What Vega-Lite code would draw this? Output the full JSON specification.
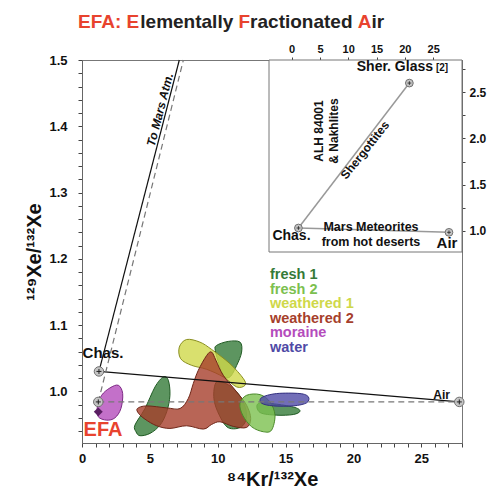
{
 "$schema": "https://vega.github.io/schema/vega-lite/v6.json",
 "width": 380, "height": 383,
 "autosize": {"type": "none"},
 "padding": {"left": 82, "top": 60, "right": 25, "bottom": 61},
 "background": "white",
 "config": {"font": "Liberation Sans", "view": {"stroke": "#777", "strokeWidth": 1}, "text": {"font": "Liberation Sans", "fontWeight": "bold"}, "axis": {"labelOverlap": false, "labelFlush": false, "ticks": true}},
 "resolve": {"scale": {"x": "independent", "y": "independent"}},
 "layer": [
  {"encoding": {
     "x": {"field": "x", "type": "quantitative", "scale": {"domain": [0, 28], "nice": false, "zero": false},
      "axis": {"orient": "bottom", "values": [0,1,2,3,4,5,6,7,8,9,10,11,12,13,14,15,16,17,18,19,20,21,22,23,24,25,26,27,28],
       "labelExpr": "datum.value % 5 === 0 ? datum.label : ''",
       "ticks": true, "tickSize": 4, "tickWidth": 1,
       "labelPadding": 5, "labelFontSize": 13, "labelFontWeight": "bold", "labelColor": "#111", "labelFlush": false, "labelOverlap": false,
       "domainColor": "#666", "tickColor": "#444", "grid": false,
       "title": "⁸⁴Kr/¹³²Xe", "titleFontSize": 20, "titleFontWeight": "bold", "titleColor": "#111", "titlePadding": 4}},
     "y": {"field": "y", "type": "quantitative", "scale": {"domain": [0.922, 1.5], "nice": false, "zero": false},
      "axis": {"orient": "left", "values": [0.94,0.96,0.98,1.0,1.02,1.04,1.06,1.08,1.1,1.12,1.14,1.16,1.18,1.2,1.22,1.24,1.26,1.28,1.3,1.32,1.34,1.36,1.38,1.4,1.42,1.44,1.46,1.48,1.5],
       "labelExpr": "abs(datum.value*10 - round(datum.value*10)) < 0.001 ? format(datum.value, '.1f') : ''",
       "ticks": true, "tickSize": 4, "tickWidth": 1,
       "labelPadding": 11, "labelFontSize": 13, "labelFontWeight": "bold", "labelColor": "#111", "labelFlush": false, "labelOverlap": false,
       "domainColor": "#666", "tickColor": "#444", "grid": false,
       "title": "¹²⁹Xe/¹³²Xe", "titleFontSize": 20, "titleFontWeight": "bold", "titleColor": "#111", "titlePadding": 4}}
   },
   "layer": [
   {"data": {"values": [
     {"series":"fresh 1","blob":"b1","i":1,"x":3.98,"y":0.939},
     {"series":"fresh 1","blob":"b1","i":2,"x":3.90,"y":0.949},
     {"series":"fresh 1","blob":"b1","i":3,"x":4.64,"y":0.974},
     {"series":"fresh 1","blob":"b1","i":4,"x":5.38,"y":1.0066},
     {"series":"fresh 1","blob":"b1","i":5,"x":5.99,"y":1.0217},
     {"series":"fresh 1","blob":"b1","i":6,"x":6.36,"y":1.0167},
     {"series":"fresh 1","blob":"b1","i":7,"x":6.48,"y":0.994},
     {"series":"fresh 1","blob":"b1","i":8,"x":6.24,"y":0.969},
     {"series":"fresh 1","blob":"b1","i":9,"x":5.75,"y":0.949},
     {"series":"fresh 1","blob":"b1","i":10,"x":5.01,"y":0.9365},
     {"series":"fresh 1","blob":"b1","i":11,"x":4.27,"y":0.933},
     {"series":"fresh 1","blob":"b2","i":1,"x":9.82,"y":1.0617},
     {"series":"fresh 1","blob":"b2","i":2,"x":9.92,"y":1.0693},
     {"series":"fresh 1","blob":"b2","i":3,"x":10.78,"y":1.0753},
     {"series":"fresh 1","blob":"b2","i":4,"x":11.64,"y":1.0743},
     {"series":"fresh 1","blob":"b2","i":5,"x":11.76,"y":1.0592},
     {"series":"fresh 1","blob":"b2","i":6,"x":11.40,"y":1.0392},
     {"series":"fresh 1","blob":"b2","i":7,"x":10.90,"y":1.0217},
     {"series":"fresh 1","blob":"b2","i":8,"x":10.41,"y":1.0232},
     {"series":"fresh 1","blob":"b2","i":9,"x":10.12,"y":1.0392},
     {"series":"fresh 1","blob":"b3","i":1,"x":12.99,"y":0.9816},
     {"series":"fresh 1","blob":"b3","i":2,"x":14.34,"y":0.9806},
     {"series":"fresh 1","blob":"b3","i":3,"x":15.69,"y":0.9756},
     {"series":"fresh 1","blob":"b3","i":4,"x":16.06,"y":0.970},
     {"series":"fresh 1","blob":"b3","i":5,"x":15.57,"y":0.965},
     {"series":"fresh 1","blob":"b3","i":6,"x":14.34,"y":0.964},
     {"series":"fresh 1","blob":"b3","i":7,"x":13.12,"y":0.968},
     {"series":"fresh 1","blob":"b4","i":1,"x":9.92,"y":1.0142},
     {"series":"fresh 1","blob":"b4","i":2,"x":10.90,"y":1.0082},
     {"series":"fresh 1","blob":"b4","i":3,"x":11.76,"y":0.989},
     {"series":"fresh 1","blob":"b4","i":4,"x":12.13,"y":0.964},
     {"series":"fresh 1","blob":"b4","i":5,"x":11.76,"y":0.9465},
     {"series":"fresh 1","blob":"b4","i":6,"x":10.78,"y":0.945},
     {"series":"fresh 1","blob":"b4","i":7,"x":10.12,"y":0.964},
     {"series":"fresh 1","blob":"b4","i":8,"x":9.72,"y":0.989},
     {"series":"weathered 1","blob":"b5","i":1,"x":7.17,"y":1.0667},
     {"series":"weathered 1","blob":"b5","i":2,"x":7.71,"y":1.0782},
     {"series":"weathered 1","blob":"b5","i":3,"x":8.69,"y":1.0742},
     {"series":"weathered 1","blob":"b5","i":4,"x":9.55,"y":1.0632},
     {"series":"weathered 1","blob":"b5","i":5,"x":10.90,"y":1.0417},
     {"series":"weathered 1","blob":"b5","i":6,"x":11.89,"y":1.0192},
     {"series":"weathered 1","blob":"b5","i":7,"x":12.01,"y":1.0091},
     {"series":"weathered 1","blob":"b5","i":8,"x":11.40,"y":1.0066},
     {"series":"weathered 1","blob":"b5","i":9,"x":10.41,"y":1.0217},
     {"series":"weathered 1","blob":"b5","i":10,"x":9.19,"y":1.0332},
     {"series":"weathered 1","blob":"b5","i":11,"x":8.08,"y":1.0392},
     {"series":"weathered 1","blob":"b5","i":12,"x":7.27,"y":1.0492},
     {"series":"weathered 2","blob":"b6","i":1,"x":4.08,"y":0.974},
     {"series":"weathered 2","blob":"b6","i":2,"x":4.76,"y":0.978},
     {"series":"weathered 2","blob":"b6","i":3,"x":6.24,"y":0.975},
     {"series":"weathered 2","blob":"b6","i":4,"x":7.22,"y":0.974},
     {"series":"weathered 2","blob":"b6","i":5,"x":7.83,"y":0.989},
     {"series":"weathered 2","blob":"b6","i":6,"x":8.20,"y":1.0117},
     {"series":"weathered 2","blob":"b6","i":7,"x":8.57,"y":1.0317},
     {"series":"weathered 2","blob":"b6","i":8,"x":9.19,"y":1.0542},
     {"series":"weathered 2","blob":"b6","i":9,"x":9.55,"y":1.0592},
     {"series":"weathered 2","blob":"b6","i":10,"x":9.87,"y":1.0467},
     {"series":"weathered 2","blob":"b6","i":11,"x":10.41,"y":1.0242},
     {"series":"weathered 2","blob":"b6","i":12,"x":11.40,"y":0.9991},
     {"series":"weathered 2","blob":"b6","i":13,"x":12.13,"y":0.979},
     {"series":"weathered 2","blob":"b6","i":14,"x":12.43,"y":0.959},
     {"series":"weathered 2","blob":"b6","i":15,"x":12.13,"y":0.9455},
     {"series":"weathered 2","blob":"b6","i":16,"x":11.15,"y":0.947},
     {"series":"weathered 2","blob":"b6","i":17,"x":10.17,"y":0.954},
     {"series":"weathered 2","blob":"b6","i":18,"x":9.55,"y":0.950},
     {"series":"weathered 2","blob":"b6","i":19,"x":8.94,"y":0.943},
     {"series":"weathered 2","blob":"b6","i":20,"x":7.71,"y":0.948},
     {"series":"weathered 2","blob":"b6","i":21,"x":6.48,"y":0.944},
     {"series":"weathered 2","blob":"b6","i":22,"x":5.50,"y":0.948},
     {"series":"weathered 2","blob":"b6","i":23,"x":4.64,"y":0.958},
     {"series":"weathered 2","blob":"b6","i":24,"x":4.17,"y":0.9667},
     {"series":"fresh 2","blob":"b7","i":1,"x":12.13,"y":0.994},
     {"series":"fresh 2","blob":"b7","i":2,"x":13.12,"y":0.995},
     {"series":"fresh 2","blob":"b7","i":3,"x":13.85,"y":0.984},
     {"series":"fresh 2","blob":"b7","i":4,"x":14.22,"y":0.964},
     {"series":"fresh 2","blob":"b7","i":5,"x":13.97,"y":0.9415},
     {"series":"fresh 2","blob":"b7","i":6,"x":13.36,"y":0.939},
     {"series":"fresh 2","blob":"b7","i":7,"x":12.50,"y":0.9465},
     {"series":"fresh 2","blob":"b7","i":8,"x":11.84,"y":0.964},
     {"series":"fresh 2","blob":"b7","i":9,"x":11.64,"y":0.9816},
     {"series":"water","blob":"b8","i":1,"x":13.24,"y":0.9906},
     {"series":"water","blob":"b8","i":2,"x":14.34,"y":0.9966},
     {"series":"water","blob":"b8","i":3,"x":16.06,"y":0.9966},
     {"series":"water","blob":"b8","i":4,"x":16.68,"y":0.9916},
     {"series":"water","blob":"b8","i":5,"x":16.55,"y":0.9826},
     {"series":"water","blob":"b8","i":6,"x":15.57,"y":0.978},
     {"series":"water","blob":"b8","i":7,"x":14.10,"y":0.978},
     {"series":"water","blob":"b8","i":8,"x":13.24,"y":0.982},
     {"series":"moraine","blob":"b9","i":1,"x":2.677,"y":1.0091},
     {"series":"moraine","blob":"b9","i":2,"x":2.996,"y":0.9966},
     {"series":"moraine","blob":"b9","i":3,"x":2.87,"y":0.9741},
     {"series":"moraine","blob":"b9","i":4,"x":2.43,"y":0.960},
     {"series":"moraine","blob":"b9","i":5,"x":1.82,"y":0.9565},
     {"series":"moraine","blob":"b9","i":6,"x":1.20,"y":0.9616},
     {"series":"moraine","blob":"b9","i":7,"x":1.13,"y":0.9766},
     {"series":"moraine","blob":"b9","i":8,"x":1.45,"y":0.9941},
     {"series":"moraine","blob":"b9","i":9,"x":2.06,"y":1.0051}
    ]},
    "mark": {"type": "line", "filled": true, "interpolate": "cardinal-closed", "fillOpacity": 0.8, "strokeWidth": 1},
    "encoding": {
     "color": {"field": "series", "type": "nominal", "legend": null,
      "scale": {"domain": ["fresh 1","fresh 2","weathered 1","weathered 2","moraine","water"],
                "range": ["#357a38","#7cc04f","#cfd84a","#a63f2c","#b44cbc","#4f4aa6"]}},
     "stroke": {"field": "series", "type": "nominal", "legend": null,
      "scale": {"domain": ["fresh 1","fresh 2","weathered 1","weathered 2","moraine","water"],
                "range": ["#1f5a22","#4a8a2a","#8a8f20","#6e2618","#7d2a85","#343080"]}},
     "detail": {"field": "blob"},
     "order": {"field": "i", "type": "quantitative"}
    }
   },
   {"data": {"values": [
     {"line":"a","i":0,"x":1.25,"y":1.03},{"line":"a","i":1,"x":27.8,"y":0.984},
     {"line":"b","i":0,"x":1.25,"y":1.03},{"line":"b","i":1,"x":7.17,"y":1.5}]},
    "mark": {"type": "line", "color": "#111", "strokeWidth": 1.2},
    "encoding": {"detail": {"field": "line"}, "order": {"field": "i", "type": "quantitative"}}
   },
   {"data": {"values": [
     {"line":"c","i":0,"x":1.2,"y":0.984},{"line":"c","i":1,"x":27.8,"y":0.984},
     {"line":"d","i":0,"x":1.2,"y":0.984},{"line":"d","i":1,"x":7.47,"y":1.5}]},
    "mark": {"type": "line", "color": "#777", "strokeWidth": 1.2, "strokeDash": [6, 4]},
    "encoding": {"detail": {"field": "line"}, "order": {"field": "i", "type": "quantitative"}}
   },
   {"data": {"values": [{"name":"Chas.","x":1.25,"y":1.03},{"name":"EFA","x":1.2,"y":0.984},{"name":"Air","x":27.8,"y":0.984}]},
    "layer": [
     {"mark": {"type": "point", "shape": "circle", "filled": true, "fill": "#c4c4c4", "stroke": "#707070", "strokeWidth": 1, "size": 90, "opacity": 1}},
     {"mark": {"type": "point", "shape": "M-1,0L1,0M0,-1L0,1", "filled": false, "stroke": "#222", "strokeWidth": 1, "size": 25, "opacity": 1}}
    ]
   },
   {"data": {"values": [{"name":"EFA sample","x":1.2,"y":0.969}]},
    "mark": {"type": "point", "shape": "diamond", "filled": true, "color": "#5a1e62", "size": 80, "opacity": 1}
   },
   {"data": {"values": [{"label":"Chas.","x":1.55,"y":1.058}]},
    "mark": {"type": "text", "fontSize": 15, "fontWeight": "bold", "color": "#111", "align": "center", "baseline": "middle"},
    "encoding": {"text": {"field": "label"}}
   },
   {"data": {"values": [{"label":"EFA","x":1.55,"y":0.9416}]},
    "mark": {"type": "text", "fontSize": 20, "fontWeight": "bold", "color": "#e8432e", "align": "center", "baseline": "middle"},
    "encoding": {"text": {"field": "label"}}
   },
   {"data": {"values": [{"label":"Air","x":26.5,"y":0.9944}]},
    "mark": {"type": "text", "fontSize": 12, "fontWeight": "bold", "color": "#111", "align": "center", "baseline": "middle"},
    "encoding": {"text": {"field": "label"}}
   },
   {"data": {"values": [{"label":"To Mars Atm.","x":5.75,"y":1.425}]},
    "mark": {"type": "text", "fontSize": 12, "fontWeight": "bold", "fontStyle": "italic", "color": "#111", "align": "center", "baseline": "middle", "angle": 284.4},
    "encoding": {"text": {"field": "label"}}
   },
   {"data": {"values": [
     {"series":"fresh 1","x":13.85,"y":1.1755},
     {"series":"fresh 2","x":13.85,"y":1.1536},
     {"series":"weathered 1","x":13.85,"y":1.1318},
     {"series":"weathered 2","x":13.85,"y":1.1096},
     {"series":"moraine","x":13.85,"y":1.0875},
     {"series":"water","x":13.85,"y":1.0653}]},
    "mark": {"type": "text", "fontSize": 14.5, "fontWeight": "bold", "align": "left", "baseline": "middle"},
    "encoding": {"text": {"field": "series"}, "color": {"field": "series", "type": "nominal", "legend": null}}
   },
   {"data": {"values": [
     {"seg":"EFA: E","part":"key","x":-0.295,"y":1.5581},
     {"seg":"lementally","part":"rest","x":4.296,"y":1.5581},
     {"seg":"F","part":"key","x":11.533,"y":1.5581},
     {"seg":"ractionated","part":"rest","x":12.388,"y":1.5581},
     {"seg":"A","part":"key","x":20.324,"y":1.5581},
     {"seg":"ir","part":"rest","x":21.334,"y":1.5581}]},
    "encoding": {"text": {"field": "seg"}},
    "layer": [
     {"transform": [{"filter": "datum.part === 'key'"}],
      "mark": {"type": "text", "fontSize": 19, "fontWeight": "bold", "color": "#e8432e", "align": "left", "baseline": "middle"}},
     {"transform": [{"filter": "datum.part === 'rest'"}],
      "mark": {"type": "text", "fontSize": 19, "fontWeight": "bold", "color": "#222", "align": "left", "baseline": "middle"}}
    ]
   }
  ]},
  {"layer": [
   {"data": {"values": [{}]},
    "mark": {"type": "rect", "fill": "white", "stroke": "#777", "strokeWidth": 1},
    "encoding": {
     "x": {"datum": -4, "type": "quantitative", "scale": {"domain": [-4, 30.1], "range": [187, 380], "nice": false, "zero": false},
      "axis": {"orient": "top", "values": [0,5,10,15,20,25], "ticks": true, "tickSize": 3, "tickWidth": 1, "labelPadding": 3, "labelFontSize": 11, "labelFontWeight": "bold", "labelColor": "#111", "labelFlush": false,
       "domainColor": "#666", "tickColor": "#444", "grid": false, "title": null}},
     "x2": {"datum": 30.1},
     "y": {"datum": 0.77, "type": "quantitative", "scale": {"domain": [0.77, 2.85], "range": [192, 0], "nice": false, "zero": false},
      "axis": {"orient": "right", "values": [1,1.25,1.5,1.75,2,2.25,2.5,2.75],
       "labelExpr": "abs(datum.value*2 - round(datum.value*2)) < 0.001 ? format(datum.value, '.1f') : ''",
       "ticks": true, "tickSize": 3, "tickWidth": 1,
       "labelPadding": 4, "labelFontSize": 12, "labelFontWeight": "bold", "labelColor": "#111", "labelFlush": false, "labelOverlap": false,
       "domainColor": "#666", "tickColor": "#444", "grid": false, "title": null}},
     "y2": {"datum": 2.85}
    }
   },
   {"data": {"values": [
     {"line":"s","i":0,"x":1.2,"y":1.03},{"line":"s","i":1,"x":20.8,"y":2.6},
     {"line":"a","i":0,"x":1.2,"y":1.03},{"line":"a","i":1,"x":27.8,"y":0.983}]},
    "mark": {"type": "line", "color": "#999", "strokeWidth": 1.5},
    "encoding": {"x": {"field": "x", "type": "quantitative"}, "y": {"field": "y", "type": "quantitative"}, "detail": {"field": "line"}, "order": {"field": "i", "type": "quantitative"}}
   },
   {"data": {"values": [{"name":"Chas.","x":1.2,"y":1.03},{"name":"Sher. Glass","x":20.8,"y":2.6},{"name":"Air","x":27.8,"y":0.983}]},
    "layer": [
     {"mark": {"type": "point", "shape": "circle", "filled": true, "fill": "#c4c4c4", "stroke": "#707070", "strokeWidth": 1, "size": 60, "opacity": 1}},
     {"mark": {"type": "point", "shape": "M-1,0L1,0M0,-1L0,1", "filled": false, "stroke": "#222", "strokeWidth": 0.8, "size": 14, "opacity": 1}}
    ],
    "encoding": {"x": {"field": "x", "type": "quantitative"}, "y": {"field": "y", "type": "quantitative"}}
   },
   {"data": {"values": [{"label":"Sher. Glass","x":24.98,"y":2.769}]},
    "mark": {"type": "text", "fontSize": 14, "fontWeight": "bold", "color": "#111", "align": "right", "baseline": "middle"},
    "encoding": {"x": {"field": "x", "type": "quantitative"}, "y": {"field": "y", "type": "quantitative"}, "text": {"field": "label"}}
   },
   {"data": {"values": [{"label":"[2]","x":25.5,"y":2.765}]},
    "mark": {"type": "text", "fontSize": 10, "fontWeight": "bold", "color": "#111", "align": "left", "baseline": "middle"},
    "encoding": {"x": {"field": "x", "type": "quantitative"}, "y": {"field": "y", "type": "quantitative"}, "text": {"field": "label"}}
   },
   {"data": {"values": [{"label":["ALH 84001","& Nakhlites"],"x":4.75,"y":2.081}]},
    "mark": {"type": "text", "fontSize": 12, "fontWeight": "bold", "color": "#111", "align": "center", "baseline": "middle", "angle": 270, "lineHeight": 15},
    "encoding": {"x": {"field": "x", "type": "quantitative"}, "y": {"field": "y", "type": "quantitative"}, "text": {"field": "label"}}
   },
   {"data": {"values": [{"label":"Shergottites","x":12.96,"y":1.875}]},
    "mark": {"type": "text", "fontSize": 12, "fontWeight": "bold", "color": "#111", "align": "center", "baseline": "middle", "angle": 308.5},
    "encoding": {"x": {"field": "x", "type": "quantitative"}, "y": {"field": "y", "type": "quantitative"}, "text": {"field": "label"}}
   },
   {"data": {"values": [{"label":["Mars Meteorites","from hot deserts"],"x":14.02,"y":1.046}]},
    "mark": {"type": "text", "fontSize": 12.5, "fontWeight": "bold", "color": "#111", "align": "center", "baseline": "middle", "lineHeight": 15},
    "encoding": {"x": {"field": "x", "type": "quantitative"}, "y": {"field": "y", "type": "quantitative"}, "text": {"field": "label"}}
   },
   {"data": {"values": [{"label":"Chas.","x":-0.03,"y":0.938}]},
    "mark": {"type": "text", "fontSize": 14, "fontWeight": "bold", "color": "#111", "align": "center", "baseline": "middle"},
    "encoding": {"x": {"field": "x", "type": "quantitative"}, "y": {"field": "y", "type": "quantitative"}, "text": {"field": "label"}}
   },
   {"data": {"values": [{"label":"Air","x":27.45,"y":0.8675}]},
    "mark": {"type": "text", "fontSize": 15, "fontWeight": "bold", "color": "#111", "align": "center", "baseline": "middle"},
    "encoding": {"x": {"field": "x", "type": "quantitative"}, "y": {"field": "y", "type": "quantitative"}, "text": {"field": "label"}}
   }
  ]}
 ]
}
